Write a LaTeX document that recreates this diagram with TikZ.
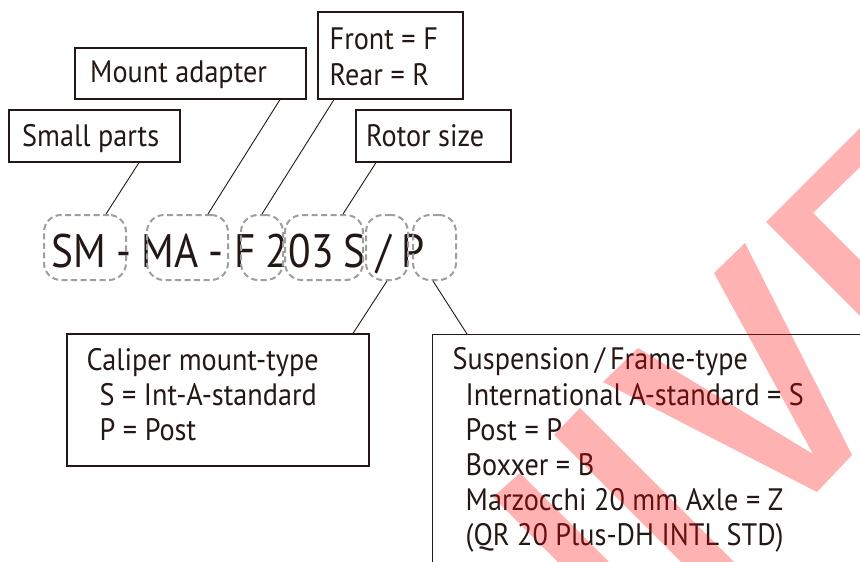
\documentclass[tikz,border=0pt]{standalone}
\usepackage{fontspec}
\setmainfont{PT Sans}[FakeStretch=0.91]
\newfontfamily\codefont{PT Sans}[FakeStretch=0.88]
\newcommand{\codegap}{\hspace{10.4pt}}
\definecolor{ink}{RGB}{35,24,21}
\definecolor{dashgray}{RGB}{158,158,158}
\tikzset{
  labelbox/.style={draw=ink, line width=1.2pt, inner sep=0pt},
  codebox/.style={draw=dashgray, line width=2pt, dash pattern=on 6pt off 3.5pt, rounded corners=17pt, inner sep=0pt, minimum height=65pt},
  leader/.style={draw=ink, line width=0.9pt},
  txt/.style={anchor=base west, inner sep=0pt, text=ink, font=\fontsize{31}{35}\selectfont},
  codetxt/.style={anchor=base west, inner sep=0pt, text=ink, font=\codefont\fontsize{47}{50}\selectfont},
}

\begin{document}
\begin{tikzpicture}[x=1pt,y=-1pt]

\useasboundingbox (0,0) rectangle (860,562);
\clip (0,0) rectangle (860,562);

% Label boxes
\node[labelbox, minimum width=171pt, minimum height=52pt] (small) at (94.5,136) {};
\node[labelbox, minimum width=231pt, minimum height=51pt] (mount) at (190.5,73.5) {};
\node[labelbox, minimum width=145pt, minimum height=87pt] (front) at (390.5,55.5) {};
\node[labelbox, minimum width=155pt, minimum height=52pt] (rotor) at (433.5,136) {};
\node[labelbox, minimum width=302pt, minimum height=132pt] (caliper) at (218,400) {};
\node[labelbox, anchor=north west, minimum width=500pt, minimum height=300pt] (susp) at (432,334) {};

% Label texts
\node[txt] (tsmall) at (22,146.7) {Small parts};
\node[txt] (tmount) at (90,82.7) {Mount adapter};
\node[txt] (tfront) at (329.5,49.3) {Front = F};
\node[txt] (trear) at (329.5,85) {Rear = R};
\node[txt] (trotor) at (366,146.7) {Rotor size};

\node[txt] (tcal) at (86.5,370) {Caliper mount-type};
\node[txt] (tcalS) at (99.5,405) {S = Int-A-standard};
\node[txt] (tcalP) at (99.5,440) {P = Post};

\node[txt] (tsusp) at (452.5,369.3) {Suspension\,/\,Frame-type};
\foreach \y/\t [count=\i] in {405/{International A-standard = S}, 440/{Post = P},
    475/{Boxxer = B}, 510/{Marzocchi 20 mm Axle = Z}, 545/{(QR 20 Plus-DH INTL STD)}}
  \node[txt] (tsusp\i) at (465.5,\y) {\t};

% Model code
\node[codetxt] (code) at (51,267) {SM\codegap-\codegap MA\codegap-\codegap F\codegap 203\codegap S\codegap/\codegap P};

\node[codebox, minimum width=82pt] (smc) at (85,247.5) {};
\node[codebox, minimum width=81pt] (mac) at (187.5,247.5) {};
\node[codebox, minimum width=42pt] (fc) at (262,247.5) {};
\node[codebox, minimum width=78pt] (rc) at (324,247.5) {};
\node[codebox, minimum width=42pt] (mc) at (387,247.5) {};
\node[codebox, minimum width=43pt] (sc) at (434.5,247.5) {};

% Leaders
\draw[leader] ([xshift=44.5pt]small.south) -- ([xshift=21pt]smc.north);
\draw[leader] ([xshift=89.5pt]mount.south) -- ([xshift=20.5pt]mac.north);
\draw[leader] ([xshift=-56.5pt]front.south) -- (fc.north);
\draw[leader] ([xshift=-57.5pt]rotor.south) -- ([xshift=19pt]rc.north);
\draw[leader] (mc.south) -- ([xshift=135pt]caliper.north);
\draw[leader] ([xshift=-1.5pt]sc.south) -- ([xshift=35pt]susp.north west);

% Stamp
\fill[red, fill opacity=0.3] (860,128) -- (766,222) -- (860,316) -- (860,260) -- (813,213) -- (860,167) -- cycle;
\fill[red, fill opacity=0.3] (714,273) -- (745,243) -- (852,455) -- (817,492) -- (603,382) -- (638,348) -- (813,454) -- cycle;
\fill[red, fill opacity=0.3] (554,435) -- (580,408) -- (772,600) -- (719,600) -- cycle;
\fill[red, fill opacity=0.3] (493,497) -- (520,473) -- (647,600) -- (596,600) -- cycle;

\end{tikzpicture}
\end{document}
